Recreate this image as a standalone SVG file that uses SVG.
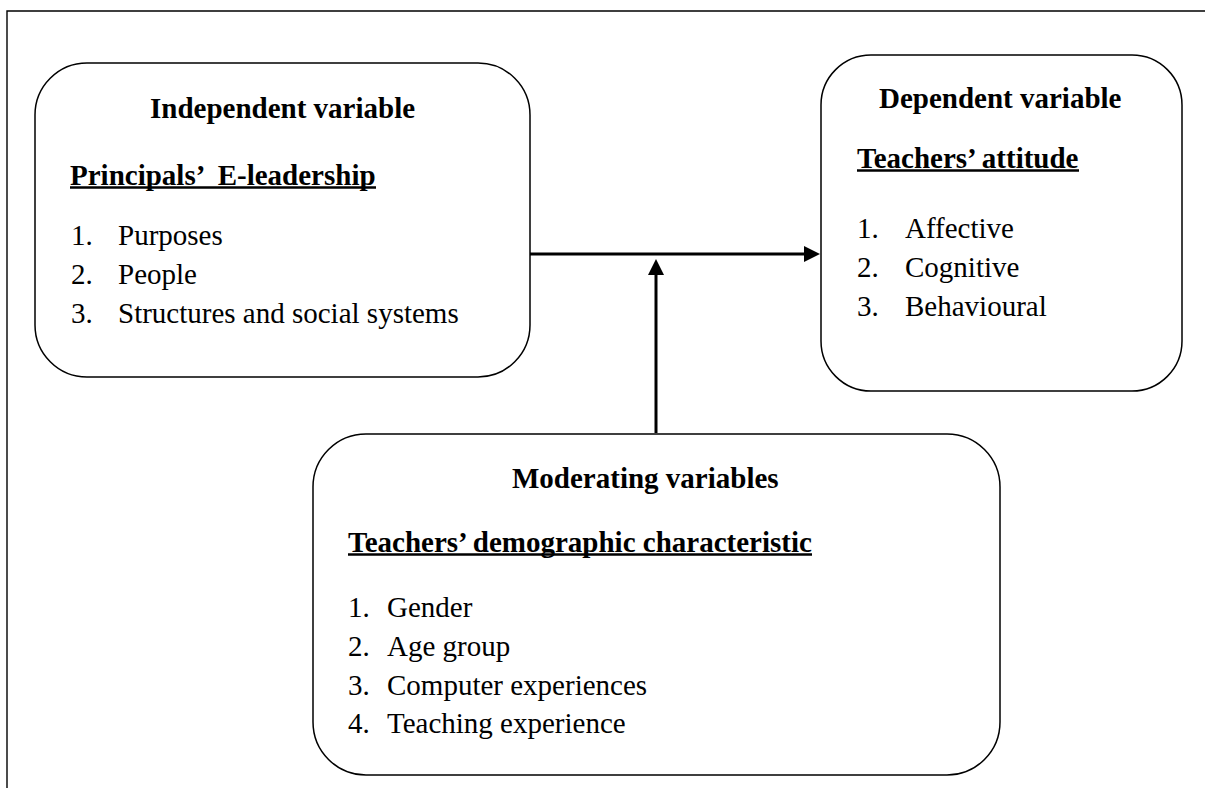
<svg xmlns="http://www.w3.org/2000/svg" width="1205" height="788" viewBox="0 0 1205 788">
<style>
.frame{fill:none;stroke:#000;stroke-width:1.4}
.box{fill:#fff;stroke:#000;stroke-width:1.5}
.conn{fill:none;stroke:#000;stroke-width:3}
.ul{stroke:#000;stroke-width:2.6}
text{font-family:"Liberation Serif","Times New Roman",serif;font-size:29px;fill:#000}
.h{font-weight:bold}
</style>
<defs>
<marker id="arrow" viewBox="0 0 16 16" refX="2" refY="8" markerWidth="16" markerHeight="16" markerUnits="userSpaceOnUse" orient="auto">
<path d="M0,0 L16,8 L0,16 z" fill="#000"/>
</marker>
</defs>
<rect width="1205" height="788" fill="#fff"/>
<path class="frame" d="M7,788 L7,11 L1205,11"/>
<g id="independent">
<rect class="box" x="35" y="63" width="495" height="314" rx="52" ry="52"/>
<text class="h" x="150" y="118">Independent variable</text>
<text class="h" x="70" y="185" xml:space="preserve">Principals’  E-leadership</text>
<line class="ul" x1="70" y1="187.5" x2="376" y2="187.5"/>
<text x="71" y="245">1.</text><text x="118" y="245">Purposes</text>
<text x="71" y="284">2.</text><text x="118" y="284">People</text>
<text x="71" y="323">3.</text><text x="118" y="323">Structures and social systems</text>
</g>
<g id="dependent">
<rect class="box" x="821" y="55" width="361" height="336" rx="50" ry="50"/>
<text class="h" x="879" y="108">Dependent variable</text>
<text class="h" x="857" y="168">Teachers’ attitude</text>
<line class="ul" x1="857" y1="170.5" x2="1079" y2="170.5"/>
<text x="857" y="238">1.</text><text x="905" y="238">Affective</text>
<text x="857" y="277">2.</text><text x="905" y="277">Cognitive</text>
<text x="857" y="316">3.</text><text x="905" y="316">Behavioural</text>
</g>
<g id="moderating">
<rect class="box" x="313" y="434" width="687" height="341" rx="53" ry="53"/>
<text class="h" x="512" y="488">Moderating variables</text>
<text class="h" x="348" y="552">Teachers’ demographic characteristic</text>
<line class="ul" x1="348" y1="554.5" x2="812" y2="554.5"/>
<text x="348" y="617">1.</text><text x="387" y="617">Gender</text>
<text x="348" y="656">2.</text><text x="387" y="656">Age group</text>
<text x="348" y="695">3.</text><text x="387" y="695">Computer experiences</text>
<text x="348" y="733">4.</text><text x="387" y="733">Teaching experience</text>
</g>
<g id="connectors">
<path class="conn" d="M530,254 L806,254" marker-end="url(#arrow)"/>
<path class="conn" d="M656,433 L656,273" marker-end="url(#arrow)"/>
</g>
</svg>
